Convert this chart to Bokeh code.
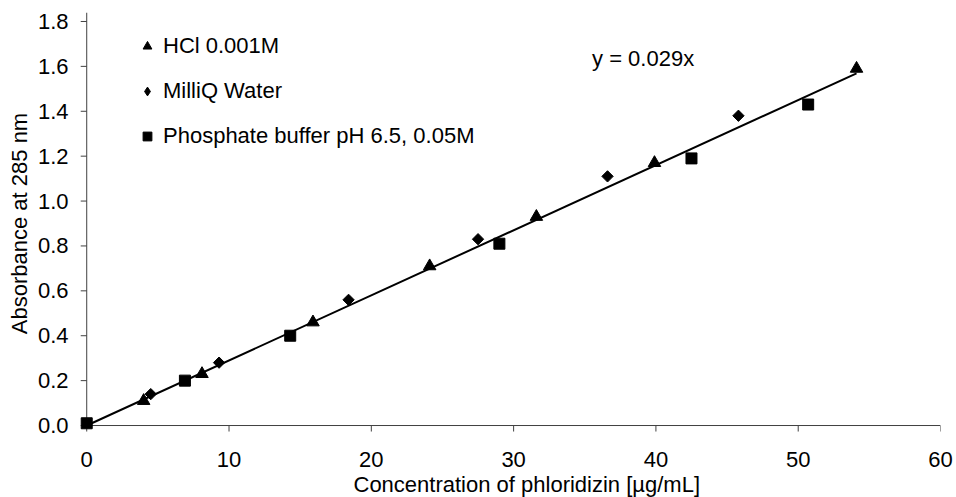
import math
from bokeh.plotting import figure
from bokeh.models import (Range1d, FixedTicker, PrintfTickFormatter, Legend, LegendItem, Label, Title)
from bokeh.embed import file_html
from bokeh.resources import INLINE

# ---- data ----
hcl_x = [4.0, 8.1, 15.9, 24.1, 31.6, 39.9, 54.1]
hcl_y = [0.11, 0.23, 0.46, 0.71, 0.93, 1.17, 1.59]

water_x = [4.5, 9.3, 18.4, 27.5, 36.6, 45.8]
water_y = [0.14, 0.28, 0.56, 0.83, 1.11, 1.38]

phos_x = [0.0, 6.9, 14.3, 29.0, 42.5, 50.7]
phos_y = [0.01, 0.20, 0.40, 0.81, 1.19, 1.43]

slope = 0.029
series_names = ["HCl 0.001M", "MilliQ Water", "Phosphate buffer pH 6.5, 0.05M"]
x_ticks = [0, 10, 20, 30, 40, 50, 60]
y_ticks = [0.0, 0.2, 0.4, 0.6, 0.8, 1.0, 1.2, 1.4, 1.6, 1.8]
x_title = "Concentration of phloridizin [\u00b5g/mL]"
y_title = "Absorbance at 285 nm"
eq_text = "y = 0.029x"

# ---- layout ----
W, H = 956, 497
FL, FR, FT, FB = 72, 940, 12, 434
X0, X1 = -1.0, 60.0
Y0, Y1 = -0.04, 1.84
px_x = (FR - FL) / (X1 - X0)
px_y = (FB - FT) / (Y1 - Y0)
TICK = 6
FONT = "Liberation Sans"
FS = "22px"

p = figure(width=W, height=H, output_backend="svg", toolbar_location=None,
           x_range=Range1d(X0, X1), y_range=Range1d(Y0, Y1),
           min_border_left=FL, min_border_right=W - FR,
           min_border_top=FT, min_border_bottom=H - FB)
p.outline_line_color = None
p.grid.visible = False
p.background_fill_color = "white"
p.border_fill_color = "white"

for ax in (p.xaxis[0], p.yaxis[0]):
    ax.axis_line_color = None
    ax.major_tick_line_color = None
    ax.minor_tick_line_color = None
    ax.major_tick_out = 0
    ax.major_tick_in = 0
    ax.major_label_text_font = FONT
    ax.major_label_text_font_size = FS
    ax.major_label_text_color = "black"

p.xaxis[0].ticker = FixedTicker(ticks=x_ticks)
p.xaxis[0].formatter = PrintfTickFormatter(format="%d")
p.xaxis[0].major_label_standoff = 17
p.yaxis[0].ticker = FixedTicker(ticks=y_ticks)
p.yaxis[0].formatter = PrintfTickFormatter(format="%.1f")
p.yaxis[0].major_label_standoff = 4
p.yaxis[0].axis_label = y_title
p.yaxis[0].axis_label_text_font = FONT
p.yaxis[0].axis_label_text_font_size = FS
p.yaxis[0].axis_label_text_font_style = "normal"
p.yaxis[0].axis_label_text_color = "black"
p.yaxis[0].axis_label_standoff = 3

p.add_layout(Title(text=x_title, align="left", offset=281, standoff=0,
                   text_font=FONT, text_font_size=FS, text_font_style="normal",
                   text_color="black"), "below")

# axis lines at x=0 / y=0
AX_COL = "#404040"
p.segment(x0=[0, 0], y0=[0, 0], x1=[0, x_ticks[-1]], y1=[Y1, 0], line_color=AX_COL, line_width=1)
# tick marks (outward)
p.segment(x0=[0] * len(y_ticks), y0=y_ticks, x1=[-TICK / px_x] * len(y_ticks), y1=y_ticks,
          line_color=AX_COL, line_width=1)
p.segment(x0=x_ticks, y0=[0] * len(x_ticks), x1=x_ticks, y1=[-TICK / px_y] * len(x_ticks),
          line_color=AX_COL, line_width=1)

# trend line
xmax = max(hcl_x + water_x + phos_x)
p.line([0, xmax], [0, slope * xmax], line_color="black", line_width=2)

r_hcl = p.scatter(hcl_x, hcl_y, marker="triangle", size=12.5, color="black")
r_wat = p.scatter(water_x, water_y, marker="square", angle=math.pi / 4, size=8, color="black")
r_pho = p.scatter(phos_x, phos_y, marker="square", size=11, color="black")
# legend-only diamond glyph (hidden renderer, same data)
r_wat_leg = p.scatter(water_x, water_y, marker="diamond", size=10, color="black", visible=False)

legend = Legend(items=[LegendItem(label=series_names[0], renderers=[r_hcl]),
                       LegendItem(label=series_names[1], renderers=[r_wat_leg]),
                       LegendItem(label=series_names[2], renderers=[r_pho])],
                location=(64, 285), orientation="vertical",
                border_line_color=None, background_fill_alpha=0,
                padding=0, margin=0, spacing=19, label_standoff=5,
                glyph_width=22, glyph_height=22,
                label_text_font=FONT, label_text_font_size=FS, label_text_color="black")
p.add_layout(legend)

p.add_layout(Label(x=39.1, y=1.636, text=eq_text, text_align="center", text_baseline="alphabetic",
                   text_font=FONT, text_font_size=FS, text_color="black"))

open("out.html", "w").write(file_html(p, INLINE))
